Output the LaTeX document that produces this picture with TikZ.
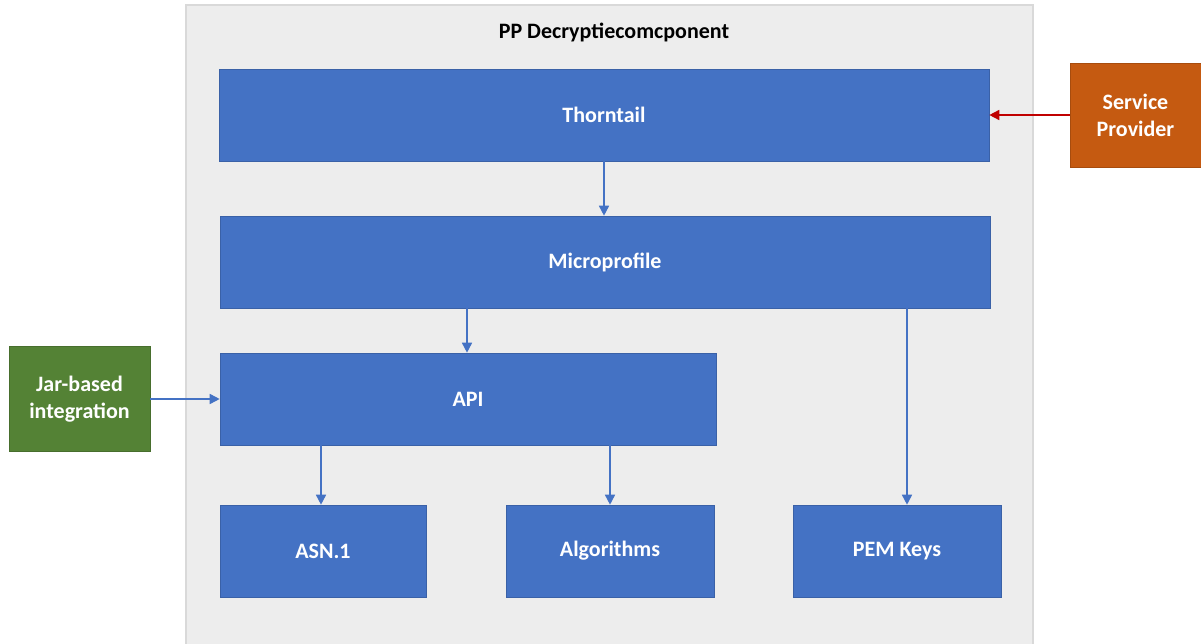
\documentclass[tikz,border=0pt]{standalone}
\usepackage{fontspec}
\setmainfont{Carlito}
\usetikzlibrary{arrows.meta}
\definecolor{boxblue}{HTML}{4472C4}
\definecolor{contgray}{HTML}{EDEDED}
\definecolor{contline}{HTML}{D9D9D9}
\definecolor{spor}{HTML}{C55A11}
\definecolor{jargreen}{HTML}{548235}
\definecolor{arrred}{HTML}{C00000}
\tikzset{
  lbl/.style={font=\bfseries\fontsize{22}{27}\selectfont},
  blk/.style={lbl, draw=boxblue!85!black, line width=0.6pt, fill=boxblue, text=white, inner sep=0pt},
  ext/.style={lbl, draw=#1!85!black, line width=0.6pt, fill=#1, text=white, inner sep=0pt, align=center},
  conn/.style={draw=boxblue, line width=1.6pt, -{Triangle[length=10pt,width=10pt]}},
  redconn/.style={draw=arrred, line width=1.6pt, -{Triangle[length=10pt,width=10pt]}}
}
\begin{document}
\begin{tikzpicture}[x=1pt,y=-1pt]
\useasboundingbox (0,0) rectangle (1201,644);
\fill[white] (0,0) rectangle (1201,644);
\filldraw[fill=contgray, draw=contline, line width=1.5pt] (186,5) rectangle (1033,650);
\node[lbl] (title) at (614,32) {PP Decryptiecomcponent};
\node[blk, minimum width=770pt, minimum height=92pt] (thorn) at (604,115) {Thorntail};
\node[blk, minimum width=770pt, minimum height=92pt] (micro) at (605,262) {Microprofile};
\node[blk, minimum width=496pt, minimum height=92pt] (api) at (468,399) {API};
\node[blk, minimum width=206pt, minimum height=92pt] (asn) at (323,551) {ASN.1};
\node[blk, minimum width=208pt, minimum height=92pt] (alg) at (610,551) {Algorithms};
\node[blk, minimum width=208pt, minimum height=92pt] (pem) at (897,551) {PEM Keys};
\node[ext=spor, minimum width=131pt, minimum height=104pt] (sp) at (1135.5,115) {Service\\Provider};
\node[ext=jargreen, minimum width=141pt, minimum height=105pt] (jar) at (79.5,399) {Jar-based\\integration};
\draw[conn] (thorn.south -| 604,0) -- (micro.north -| 604,0);
\draw[conn] (micro.south -| 467,0) -- (api.north -| 467,0);
\draw[conn] (micro.south -| 907,0) -- (pem.north -| 907,0);
\draw[conn] (api.south -| 321,0) -- (asn.north -| 321,0);
\draw[conn] (api.south -| 610,0) -- (alg.north -| 610,0);
\draw[conn] (jar.east) -- (api.west);
\draw[redconn] (sp.west) -- (thorn.east);
\end{tikzpicture}
\end{document}
